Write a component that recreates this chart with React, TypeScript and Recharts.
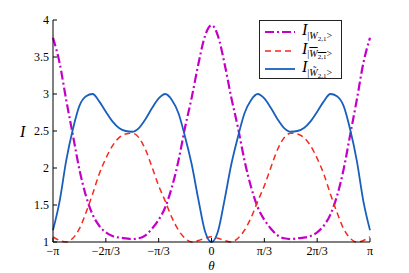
import { LineChart, Line, XAxis, YAxis } from "recharts";

// Intensities of the three W-type states against theta (degrees, -180..180)
const thetaDeg = [
  -180, -172.5, -165, -157.5, -150, -142.5, -135, -127.5, -120, -112.5, -105, -97.5,
  -90, -82.5, -75, -67.5, -60, -52.5, -45, -37.5, -30, -22.5, -15, -7.5,
  0, 7.5, 15, 22.5, 30, 37.5, 45, 52.5, 60, 67.5, 75, 82.5,
  90, 97.5, 105, 112.5, 120, 127.5, 135, 142.5, 150, 157.5, 165, 172.5, 180,
];

const intensityW = [
  3.76, 3.42, 2.92, 2.45, 1.98, 1.62, 1.37, 1.22, 1.13, 1.08, 1.06, 1.05,
  1.04, 1.05, 1.09, 1.18, 1.3, 1.47, 1.74, 2.1, 2.55, 2.95, 3.4, 3.78,
  3.93, 3.78, 3.4, 2.95, 2.55, 2.1, 1.74, 1.47, 1.3, 1.18, 1.09, 1.05,
  1.04, 1.05, 1.06, 1.08, 1.13, 1.22, 1.37, 1.62, 1.98, 2.45, 2.92, 3.42, 3.76,
];

const intensityWbar = [
  1.07, 1.02, 1.0, 1.05, 1.18, 1.4, 1.65, 1.92, 2.13, 2.3, 2.41, 2.46,
  2.47, 2.41, 2.25, 2.01, 1.76, 1.55, 1.33, 1.16, 1.05, 1.0, 1.02, 1.05,
  1.07, 1.05, 1.02, 1.0, 1.05, 1.16, 1.33, 1.55, 1.76, 2.01, 2.25, 2.41,
  2.47, 2.46, 2.41, 2.3, 2.13, 1.92, 1.65, 1.4, 1.18, 1.05, 1.0, 1.02, 1.07,
];

const intensityWtilde = [
  1.16, 1.55, 2.1, 2.52, 2.84, 2.97, 3.0, 2.9, 2.76, 2.63, 2.54, 2.5,
  2.49, 2.54, 2.66, 2.81, 2.94, 3.0, 2.92, 2.74, 2.42, 2.05, 1.58, 1.15,
  1.0, 1.15, 1.58, 2.05, 2.42, 2.74, 2.92, 3.0, 2.94, 2.81, 2.66, 2.54,
  2.49, 2.5, 2.54, 2.63, 2.76, 2.9, 3.0, 2.97, 2.84, 2.52, 2.1, 1.55, 1.16,
];

const xTicks = [-180, -120, -60, 0, 60, 120, 180];
const xTickLabels = ["−π", "−2π/3", "−π/3", "0", "π/3", "2π/3", "π"];
const yTicks = [1, 1.5, 2, 2.5, 3, 3.5, 4];

const SERIF = '"Liberation Serif", "DejaVu Serif", serif';
const MAGENTA = "#c400c8";
const RED = "#f5291c";
const BLUE = "#1a5fbc";

const data = thetaDeg.map((t, i) => ({
  theta: t,
  w: intensityW[i],
  wbar: intensityWbar[i],
  wtilde: intensityWtilde[i],
}));

const xTickStyle = { fill: "#000", fontSize: 12, fontFamily: SERIF };
const yTickStyle = { fill: "#000", fontSize: 12, fontFamily: SERIF };

function Sub({ mark }: { mark: "none" | "bar" | "tilde" }) {
  const w =
    mark === "tilde" ? (
      <span style={{ fontStyle: "italic" }}>W&#771;</span>
    ) : (
      <span style={{ fontStyle: "italic" }}>W</span>
    );
  return (
    <span style={{ fontSize: 10, position: "relative", top: 4 }}>
      |
      <span style={{ textDecoration: mark === "bar" ? "overline" : "none" }}>
        {w}
        <span style={{ fontSize: 7, position: "relative", top: 2 }}>2,1</span>
      </span>
      &gt;
    </span>
  );
}

function LegendBox() {
  const rows: { color: string; dash: string; width: number; mark: "none" | "bar" | "tilde" }[] = [
    { color: MAGENTA, dash: "9 3 2 3", width: 2, mark: "none" },
    { color: RED, dash: "6 4", width: 1.5, mark: "bar" },
    { color: BLUE, dash: "", width: 1.8, mark: "tilde" },
  ];
  return (
    <div
      style={{
        position: "absolute",
        left: 259,
        top: 20,
        width: 83,
        height: 59,
        border: "1px solid #222",
        background: "#fff",
        boxSizing: "border-box",
        fontFamily: SERIF,
        paddingTop: 2,
      }}
    >
      {rows.map((r, i) => (
        <div key={i} style={{ display: "flex", alignItems: "center", height: 18.5, lineHeight: "14px" }}>
          <svg width={37} height={10} style={{ marginLeft: 5 }}>
            <line
              x1={0}
              y1={5}
              x2={30}
              y2={5}
              stroke={r.color}
              strokeWidth={r.width}
              strokeDasharray={r.dash || undefined}
            />
          </svg>
          <span style={{ fontStyle: "italic", fontSize: 16, marginTop: -4 }}>I</span>
          <Sub mark={r.mark} />
        </div>
      ))}
    </div>
  );
}

export default function App() {
  return (
    <div
      style={{
        position: "absolute",
        left: 0,
        top: 0,
        width: 409,
        height: 273,
        background: "#fff",
        fontFamily: SERIF,
      }}
    >
      <LineChart width={409} height={273} data={data} margin={{ top: 20, right: 39, bottom: 0, left: 0 }}>
        <XAxis
          xAxisId="b"
          dataKey="theta"
          type="number"
          domain={[-180, 180]}
          ticks={xTicks}
          tickFormatter={(v) => xTickLabels[xTicks.indexOf(v)]}
          tick={xTickStyle}
          tickSize={-4}
          tickMargin={8}
          height={31}
          axisLine={{ stroke: "#000" }}
          tickLine={{ stroke: "#000" }}
          label={{
            value: "θ",
            position: "insideBottom",
            offset: 3,
            fontStyle: "italic",
            fontFamily: SERIF,
            fontSize: 13,
            fill: "#000",
          }}
        />
        <XAxis
          xAxisId="t"
          orientation="top"
          type="number"
          domain={[-180, 180]}
          ticks={xTicks}
          mirror
          height={0}
          tick={false}
          tickSize={4}
          axisLine={{ stroke: "#000" }}
          tickLine={{ stroke: "#000" }}
        />
        <YAxis
          yAxisId="l"
          type="number"
          domain={[1, 4]}
          ticks={yTicks}
          tick={yTickStyle}
          tickSize={-4}
          tickMargin={8}
          width={53}
          axisLine={{ stroke: "#000" }}
          tickLine={{ stroke: "#000" }}
          label={{
            value: "I",
            position: "insideLeft",
            offset: 20,
            fontStyle: "italic",
            fontFamily: SERIF,
            fontSize: 16,
            fill: "#000",
          }}
        />
        <YAxis
          yAxisId="r"
          orientation="right"
          type="number"
          domain={[1, 4]}
          ticks={yTicks}
          mirror
          width={0}
          tick={false}
          tickSize={4}
          axisLine={{ stroke: "#000" }}
          tickLine={{ stroke: "#000" }}
        />
        <Line
          xAxisId="b"
          yAxisId="l"
          type="monotone"
          dataKey="w"
          stroke={MAGENTA}
          strokeWidth={2.2}
          strokeDasharray="9 3 2 3"
          dot={false}
          isAnimationActive={false}
        />
        <Line
          xAxisId="b"
          yAxisId="l"
          type="monotone"
          dataKey="wbar"
          stroke={RED}
          strokeWidth={1.5}
          strokeDasharray="6 4"
          dot={false}
          isAnimationActive={false}
        />
        <Line
          xAxisId="b"
          yAxisId="l"
          type="monotone"
          dataKey="wtilde"
          stroke={BLUE}
          strokeWidth={1.8}
          dot={false}
          isAnimationActive={false}
        />
      </LineChart>
      <LegendBox />
    </div>
  );
}
